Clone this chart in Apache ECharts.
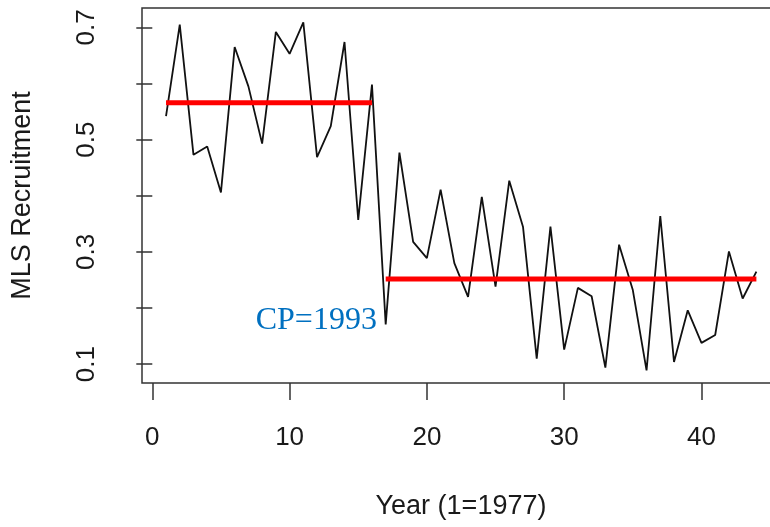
<!DOCTYPE html>
<html>
<head>
<meta charset="utf-8">
<script src="https://cdn.jsdelivr.net/npm/echarts@6/dist/echarts.min.js"></script>
<style>html,body{margin:0;padding:0;background:#fff;overflow:hidden;width:770px;height:527px}#c{width:790px;height:527px}</style>
</head>
<body>
<div id="c"></div>
<script>
const years = [1,2,3,4,5,6,7,8,9,10,11,12,13,14,15,16,17,18,19,20,21,22,23,24,25,26,27,28,29,30,31,32,33,34,35,36,37,38,39,40,41,42,43,44];
const recruitment = [0.542,0.705,0.473,0.488,0.406,0.665,0.595,0.493,0.692,0.653,0.709,0.469,0.524,0.674,0.357,0.598,
  0.171,0.477,0.318,0.289,0.411,0.280,0.220,0.398,0.238,0.427,0.345,0.110,0.345,0.126,0.236,0.221,0.094,0.313,0.232,0.089,0.364,0.104,0.196,0.138,0.152,0.301,0.217,0.265];
const segmentStart = [1, 17];
const segmentEnd = [16, 44];
const segmentMean = [0.566, 0.252];
const xTicks = [0,10,20,30,40];
const yTicks = [0.1,0.2,0.3,0.4,0.5,0.6,0.7];
const yLabels = [0.1,0.3,0.5,0.7];
const cpText = 'CP=1993';

const chart = echarts.init(document.getElementById('c'));
const axisColor = '#333';
const font = 'Liberation Sans, Arial, sans-serif';
const option = {
  animation: false,
  grid: {left: 142, top: 8, right: 10, bottom: 144, show: true, borderColor: axisColor, borderWidth: 1.5, containLabel: false},
  xAxis: {
    type: 'value', min: -0.75, max: 45.72,
    splitLine: {show: false}, axisLine: {show: false},
    axisTick: {show: true, length: 17, inside: false, customValues: xTicks, lineStyle: {color: axisColor, width: 1.5}},
    axisLabel: {customValues: xTicks, margin: 42, fontSize: 26, color: '#1a1a1a', fontFamily: font},
    name: 'Year (1=1977)', nameLocation: 'middle', nameGap: 110,
    nameTextStyle: {fontSize: 27, color: '#1a1a1a', fontFamily: font}
  },
  yAxis: {
    type: 'value', min: 0.0665, max: 0.7346,
    splitLine: {show: false}, axisLine: {show: false},
    axisTick: {show: true, length: 16, customValues: yTicks, lineStyle: {color: axisColor, width: 1.5}},
    axisLabel: {customValues: yLabels, rotate: 90, margin: 42, fontSize: 26, color: '#1a1a1a', fontFamily: font,
      formatter: v => v.toFixed(1)},
    name: 'MLS Recruitment', nameLocation: 'middle', nameGap: 106, nameRotate: 90,
    nameTextStyle: {fontSize: 27, color: '#1a1a1a', fontFamily: font}
  },
  series: [
    {type: 'line', data: years.map((y, i) => [y, recruitment[i]]), symbol: 'none',
      lineStyle: {color: '#111', width: 1.8}, z: 2},
    ...segmentStart.map((s, i) => ({
      type: 'line', data: [[s, segmentMean[i]], [segmentEnd[i], segmentMean[i]]], symbol: 'none',
      lineStyle: {color: '#ff0000', width: 5}, z: 3
    }))
  ]
};
chart.setOption(option);
const p = chart.convertToPixel({gridIndex: 0}, [16.36, 0.1776]);
chart.setOption({graphic: [{type: 'text', x: p[0], y: p[1], style: {text: cpText, fill: '#0070c0',
  font: '32px "Liberation Serif", serif', textAlign: 'right', textVerticalAlign: 'middle'}}]});
</script>
</body>
</html>
